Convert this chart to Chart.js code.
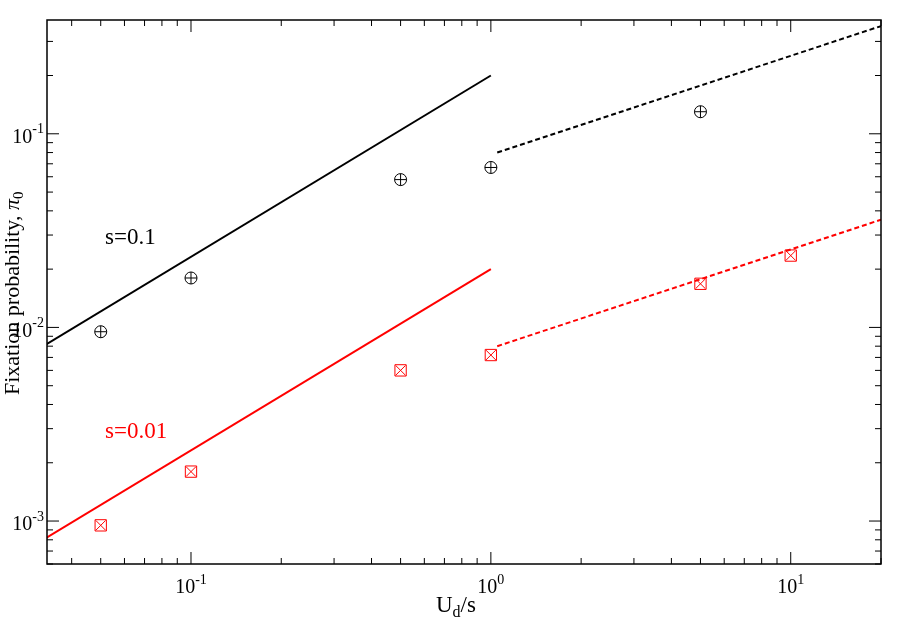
<!DOCTYPE html>
<html>
<head>
<meta charset="UTF-8" />
<title>Fixation probability</title>
<script src="https://cdn.jsdelivr.net/npm/chart.js"></script>
<style>
  html, body { margin: 0; padding: 0; background: #fff; }
  #wrap { width: 913px; height: 639px; }
</style>
</head>
<body>
<div id="wrap"><canvas id="chart" width="913" height="639"></canvas></div>
<script>
  // simulation points
  const ratioX = [0.05, 0.1, 0.5, 1, 5];
  const bigS = [0.0095, 0.018, 0.058, 0.067, 0.13];
  const ratioXRed = [0.05, 0.1, 0.5, 1, 5, 10];
  const smallS = [0.00095, 0.0018, 0.006, 0.0072, 0.0168, 0.0235];

  // theory lines (end points)
  const lowX = [0.033, 1];
  const lowBig = [0.0082, 0.2];
  const lowSmall = [0.00082, 0.02];
  const highX = [1.05, 20];
  const highBig = [0.08, 0.36];
  const highSmall = [0.008, 0.036];

  const xDecades = [-1, 0, 1];
  const yDecades = [-3, -2, -1];

  const pts = (xs, ys) => xs.map((x, i) => ({ x: x, y: ys[i] }));
  const SERIF = '"Liberation Serif", "DejaVu Serif", serif';

  function lineSet(xs, ys, color, dash) {
    return { type: 'line', data: pts(xs, ys), borderColor: color, borderWidth: 2,
      borderDash: dash, pointRadius: 0, fill: false };
  }
  function markSet(xs, ys, color, style, r) {
    return { type: 'scatter', data: pts(xs, ys), borderColor: color, backgroundColor: 'rgba(0,0,0,0)',
      pointStyle: style, pointRadius: r, borderWidth: 1, showLine: false };
  }

  // "10" with raised exponent, right- or centre-aligned at (x, y)
  function power(ctx, d, x, y, align) {
    ctx.font = '20px ' + SERIF;
    const wb = ctx.measureText('10').width;
    ctx.font = '14px ' + SERIF;
    const we = ctx.measureText(String(d)).width;
    let x0 = align === 'right' ? x - wb - we : x - (wb + we) / 2;
    ctx.textAlign = 'left';
    ctx.font = '20px ' + SERIF;
    ctx.fillText('10', x0, y);
    ctx.font = '14px ' + SERIF;
    ctx.fillText(String(d), x0 + wb, y - 8);
  }

  const frame = {
    id: 'frame',
    afterDraw(chart) {
      const ctx = chart.ctx, a = chart.chartArea;
      const xs = chart.scales.x, ys = chart.scales.y;
      ctx.save();
      ctx.strokeStyle = '#000';
      ctx.lineWidth = 1.5;
      ctx.strokeRect(a.left, a.top, a.right - a.left, a.bottom - a.top);
      ctx.lineWidth = 1;
      for (let d = -2; d <= 1; d++) {
        for (let m = 1; m < 10; m++) {
          const v = m * Math.pow(10, d);
          if (v < xs.min || v > xs.max) continue;
          const p = xs.getPixelForValue(v), len = m === 1 ? 12 : 6;
          ctx.beginPath();
          ctx.moveTo(p, a.bottom); ctx.lineTo(p, a.bottom - len);
          ctx.moveTo(p, a.top); ctx.lineTo(p, a.top + len);
          ctx.stroke();
        }
      }
      for (let d = -4; d <= -1; d++) {
        for (let m = 1; m < 10; m++) {
          const v = m * Math.pow(10, d);
          if (v < ys.min || v > ys.max) continue;
          const p = ys.getPixelForValue(v), len = m === 1 ? 12 : 6;
          ctx.beginPath();
          ctx.moveTo(a.left, p); ctx.lineTo(a.left + len, p);
          ctx.moveTo(a.right, p); ctx.lineTo(a.right - len, p);
          ctx.stroke();
        }
      }
      ctx.fillStyle = '#000';
      ctx.textBaseline = 'middle';
      xDecades.forEach(d => power(ctx, d, xs.getPixelForValue(Math.pow(10, d)), a.bottom + 24, 'center'));
      yDecades.forEach(d => power(ctx, d, a.left - 3, ys.getPixelForValue(Math.pow(10, d)) + 4, 'right'));

      // axis titles
      ctx.font = '23px ' + SERIF;
      ctx.textAlign = 'left';
      const cx = (a.left + a.right) / 2 - 28, ty = 606;
      ctx.fillText('U', cx, ty);
      let w = ctx.measureText('U').width;
      ctx.font = '16px ' + SERIF;
      ctx.fillText('d', cx + w, ty + 7);
      w += ctx.measureText('d').width;
      ctx.font = '23px ' + SERIF;
      ctx.fillText('/s', cx + w, ty);

      ctx.save();
      ctx.translate(13, (a.top + a.bottom) / 2);
      ctx.rotate(-Math.PI / 2);
      ctx.font = '22px ' + SERIF;
      const t1 = 'Fixation probability, ';
      const full = ctx.measureText(t1 + 'π').width + 10;
      let x0 = -full / 2;
      ctx.fillText(t1, x0, 0);
      x0 += ctx.measureText(t1).width;
      ctx.font = 'italic 22px ' + SERIF;
      ctx.fillText('π', x0, 0);
      x0 += ctx.measureText('π').width;
      ctx.font = '15px ' + SERIF;
      ctx.fillText('0', x0, 6);
      ctx.restore();

      // curve labels
      ctx.font = '23px ' + SERIF;
      ctx.textAlign = 'left';
      ctx.fillStyle = '#000';
      ctx.fillText('s=0.1', 105, 238);
      ctx.fillStyle = '#ff0000';
      ctx.fillText('s=0.01', 105, 432);
      ctx.restore();
    }
  };

  new Chart(document.getElementById('chart'), {
    data: {
      datasets: [
        lineSet(lowX, lowBig, '#000', []),
        lineSet(lowX, lowSmall, '#ff0000', []),
        lineSet(highX, highBig, '#000', [5, 3]),
        lineSet(highX, highSmall, '#ff0000', [5, 3]),
        markSet(ratioX, bigS, '#000', 'circle', 6),
        markSet(ratioX, bigS, '#000', 'cross', 6),
        markSet(ratioXRed, smallS, '#ff0000', 'rect', 8),
        markSet(ratioXRed, smallS, '#ff0000', 'crossRot', 7)
      ]
    },
    options: {
      responsive: false,
      animation: false,
      layout: { padding: { left: 47, right: 32, top: 20, bottom: 75 } },
      plugins: { legend: { display: false }, tooltip: { enabled: false } },
      scales: {
        x: { type: 'logarithmic', min: 0.0331, max: 20, display: false },
        y: { type: 'logarithmic', min: 0.000608, max: 0.387, display: false }
      }
    },
    plugins: [frame]
  });
</script>
</body>
</html>
